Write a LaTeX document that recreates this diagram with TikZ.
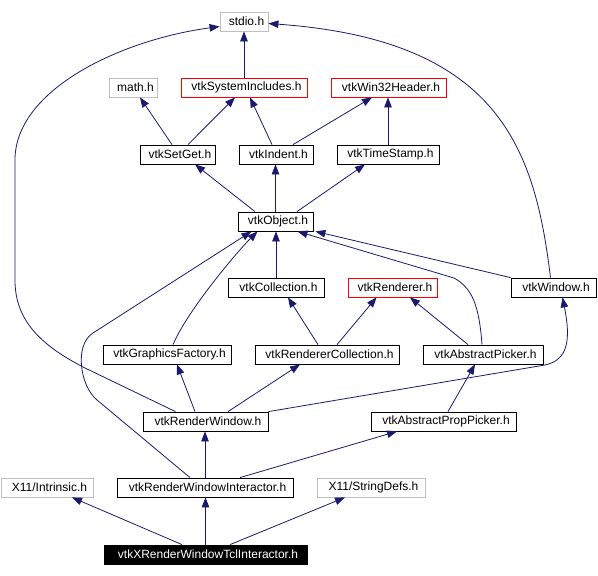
\documentclass[tikz,border=0pt]{standalone}
\usepackage{fontspec}
\setmainfont{Liberation Sans}
\usetikzlibrary{arrows.meta,calc}
\definecolor{edgeblue}{HTML}{191970}
\definecolor{boxgray}{HTML}{BFBFBF}
\begin{document}
\begin{tikzpicture}[x=1pt,y=-1pt,
    hdr/.style={draw=black,line width=0.8pt,minimum height=19pt,inner sep=0pt,font=\fontsize{12}{14}\selectfont,
      execute at begin node=\hspace*{5pt}},
    hdrred/.style={hdr,draw=red},
    hdrgray/.style={hdr,draw=boxgray},
    hdrself/.style={hdr,fill=black,text=white},
    dep/.style={draw=edgeblue,line width=0.8pt,-{Triangle[length=10pt,width=7.5pt]}}]
  \useasboundingbox (0,0) rectangle (598,576);
  % Top rows
  \node[hdrgray,minimum width=48] (stdio) at (244,21.5) {stdio.h};
  \node[hdrgray,minimum width=48] (math) at (133,87.5) {math.h};
  \node[hdrred,minimum width=126] (sysinc) at (244,87.5) {vtkSystemIncludes.h};
  \node[hdrred,minimum width=115] (win32) at (388.5,87.5) {vtkWin32Header.h};
  \node[hdr,minimum width=75] (setget) at (177.5,154.5) {vtkSetGet.h};
  \node[hdr,minimum width=74] (indent) at (276,154.5) {vtkIndent.h};
  \node[hdr,minimum width=102] (timestamp) at (388,154.5) {vtkTimeStamp.h};
  \node[hdr,minimum width=75] (object) at (275.5,221.5) {vtkObject.h};
  % Middle rows
  \node[hdr,minimum width=96] (collection) at (276,287.5) {vtkCollection.h};
  \node[hdrred,minimum width=89] (renderer) at (392.5,287.5) {vtkRenderer.h};
  \node[hdr,minimum width=85] (window) at (553.5,287.5) {vtkWindow.h};
  \node[hdr,minimum width=128] (gfactory) at (167,354.5) {vtkGraphicsFactory.h};
  \node[hdr,minimum width=144] (rencoll) at (327,354.5) {vtkRendererCollection.h};
  \node[hdr,minimum width=120] (abspicker) at (483,354.5) {vtkAbstractPicker.h};
  \node[hdr,minimum width=125] (renwin) at (205.5,421.5) {vtkRenderWindow.h};
  \node[hdr,minimum width=145] (proppicker) at (443.5,421.5) {vtkAbstractPropPicker.h};
  % Bottom rows
  \node[hdrgray,minimum width=92] (intrinsic) at (47,487.5) {X11/Intrinsic.h};
  \node[hdr,minimum width=176] (rwi) at (205,487.5) {vtkRenderWindowInteractor.h};
  \node[hdrgray,minimum width=108] (stringdefs) at (371,487.5) {X11/StringDefs.h};
  \node[hdrself,minimum width=203] (xrwti) at (205.5,554.5) {vtkXRenderWindowTclInteractor.h};
  % Includes
  \draw[dep] (sysinc) -- (stdio);
  \draw[dep] ([xshift=-5.5]setget.north) -- ([xshift=7]math.south);
  \draw[dep] ([xshift=10.5]setget.north) -- ([xshift=-9]sysinc.south);
  \draw[dep] ([xshift=-4]indent.north) -- ([xshift=6]sysinc.south);
  \draw[dep] ([xshift=17]indent.north) -- ([xshift=-16.5]win32.south);
  \draw[dep] (timestamp.north) -- (timestamp.north |- win32.south);
  \draw[dep] ([xshift=-20.5]object.north) -- ([xshift=17.5]setget.south);
  \draw[dep] (object.north) -- (object.north |- indent.south);
  \draw[dep] ([xshift=21.5]object.north) -- ([xshift=-23]timestamp.south);
  \draw[dep] (collection) -- (collection |- object.south);
  \draw[dep] (window.north west) -- ([xshift=2]object.south east);
  \draw[dep] ([xshift=-1]abspicker.north) .. controls +(-3,-40) and +(18,10) .. (454,278) -- ([xshift=22]object.south);
  \draw[dep] ([xshift=6]gfactory.north) .. controls +(15,-35) and +(-20,20) .. ([xshift=-18]object.south);
  \draw[dep] ([xshift=-15]rwi.north) -- (97,400) .. controls (80,386) and (74,345) .. (93,333) -- ([xshift=-24]object.south);
  \draw[dep] ([xshift=-30]renwin.north) -- (85,368) .. controls (40,345) and (15,320) .. (15,280) -- (15,160)
    .. controls (15,90) and (120,40) .. ([yshift=-5]stdio.west);
  \draw[dep] ([xshift=-3]window.north) .. controls (535,150) and (500,40) .. ([yshift=-2]stdio.east);
  \draw[dep] ([xshift=-9]rencoll.north) -- ([xshift=12]collection.south);
  \draw[dep] ([xshift=10]rencoll.north) -- ([xshift=-16]renderer.south);
  \draw[dep] ([xshift=-15]abspicker.north) -- ([xshift=17.5]renderer.south);
  \draw[dep] ([xshift=-10.5]renwin.north) -- ([xshift=10]gfactory.south);
  \draw[dep] ([xshift=22.5]renwin.north) -- ([xshift=-27]rencoll.south);
  \draw[dep] (renwin.north east) -- (545,365) .. controls (568,360) and (571,340) .. ([xshift=9]window.south);
  \draw[dep] ([xshift=4.5]proppicker.north) -- ([xshift=-8]abspicker.south);
  \draw[dep] (rwi.north) -- (rwi.north |- renwin.south);
  \draw[dep] ([xshift=35]rwi.north) -- ([xshift=-46.5]proppicker.south);
  \draw[dep] ([xshift=-23.5]xrwti.north) -- ([xshift=25]intrinsic.south);
  \draw[dep] (xrwti.north) -- (xrwti.north |- rwi.south);
  \draw[dep] ([xshift=24.5]xrwti.north) -- ([xshift=-26]stringdefs.south);
\end{tikzpicture}
\end{document}
